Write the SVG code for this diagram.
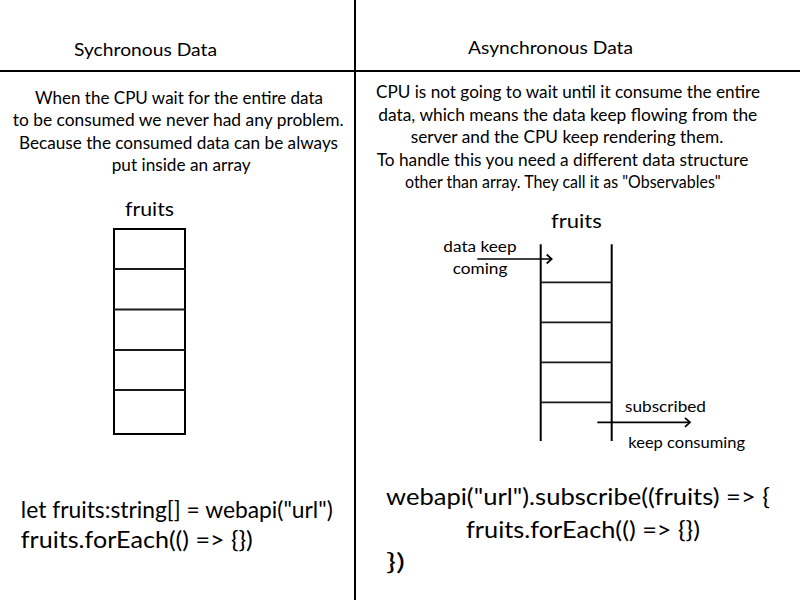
<svg xmlns="http://www.w3.org/2000/svg" width="800" height="600" viewBox="0 0 800 600">
  <style>
    text { font-family: Lato, "Open Sans", "Noto Sans", sans-serif; fill: #000; }
    .title { font-size: 18px; }
    .para { font-size: 16.3px; }
    .label { font-size: 18.5px; }
    .small { font-size: 15.5px; }
    .code { font-size: 24px; }
    .rule { stroke: #000; stroke-width: 2; fill: none; }
    .frame { stroke: #000; stroke-width: 2; fill: none; }
    .rung { stroke: #1a1a1a; stroke-width: 1.8; }
    .arrow { stroke: #000; stroke-width: 1.7; fill: none; marker-end: url(#chev); }
  </style>
  <defs>
    <marker id="chev" markerUnits="userSpaceOnUse" viewBox="0 0 8 12" refX="6.5" refY="6" markerWidth="8" markerHeight="12" orient="auto" overflow="visible">
      <path d="M1.5,1.5 L6.5,6 L1.5,10.5" fill="none" stroke="#000" stroke-width="1.7"/>
    </marker>
  </defs>
  <rect width="800" height="600" fill="#fff"/>

  <g id="layout">
    <line class="rule" x1="0" y1="71" x2="800" y2="71"/>
    <line class="rule" x1="355" y1="0" x2="355" y2="600"/>
  </g>

  <g id="sync-header">
    <text class="title" x="74" y="56" textLength="143" lengthAdjust="spacingAndGlyphs">Sychronous Data</text>
  </g>
  <g id="async-header">
    <text class="title" x="468" y="54" textLength="165" lengthAdjust="spacingAndGlyphs">Asynchronous Data</text>
  </g>

  <g id="sync-description">
    <text class="para" x="35" y="103.5" textLength="288" lengthAdjust="spacingAndGlyphs">When the CPU wait for the entire data</text>
    <text class="para" x="12.7" y="126" textLength="331" lengthAdjust="spacingAndGlyphs">to be consumed we never had any problem.</text>
    <text class="para" x="19" y="148.7" textLength="319" lengthAdjust="spacingAndGlyphs">Because the consumed data can be always</text>
    <text class="para" x="111.7" y="171.3" textLength="139" lengthAdjust="spacingAndGlyphs">put inside an array</text>
  </g>

  <g id="async-description">
    <text class="para" x="376" y="98.3" textLength="384" lengthAdjust="spacingAndGlyphs">CPU is not going to wait until it consume the entire</text>
    <text class="para" x="378.3" y="120.7" textLength="379" lengthAdjust="spacingAndGlyphs">data, which means the data keep flowing from the</text>
    <text class="para" x="410.7" y="143.3" textLength="312.6" lengthAdjust="spacingAndGlyphs">server and the CPU keep rendering them.</text>
    <text class="para" x="376.7" y="165.7" textLength="371.6" lengthAdjust="spacingAndGlyphs">To handle this you need a different data structure</text>
    <text class="para" x="405" y="188.3" textLength="315.7" lengthAdjust="spacingAndGlyphs">other than array. They call it as "Observables"</text>
  </g>

  <g id="sync-array">
    <text class="label" x="125" y="216" textLength="49" lengthAdjust="spacingAndGlyphs">fruits</text>
    <rect class="frame" x="114" y="229" width="71" height="205"/>
    <line class="rung" x1="114" y1="269" x2="185" y2="269"/>
    <line class="rung" x1="114" y1="309.5" x2="185" y2="309.5"/>
    <line class="rung" x1="114" y1="350" x2="185" y2="350"/>
    <line class="rung" x1="114" y1="390" x2="185" y2="390"/>
  </g>

  <g id="async-stream">
    <text class="label" x="551" y="228.3" textLength="50.7" lengthAdjust="spacingAndGlyphs">fruits</text>
    <line class="rule" x1="540.7" y1="244.3" x2="540.7" y2="441"/>
    <line class="rule" x1="611.7" y1="244.3" x2="611.7" y2="441"/>
    <line class="rung" x1="540.7" y1="282.3" x2="611.7" y2="282.3"/>
    <line class="rung" x1="540.7" y1="322.3" x2="611.7" y2="322.3"/>
    <line class="rung" x1="540.7" y1="362.3" x2="611.7" y2="362.3"/>
    <line class="rung" x1="540.7" y1="402.3" x2="611.7" y2="402.3"/>
  </g>

  <g id="connectors">
    <line class="arrow" x1="477.3" y1="259" x2="551.7" y2="259"/>
    <line class="arrow" x1="597.3" y1="422.3" x2="690" y2="422.3"/>
  </g>

  <g id="connector-labels">
    <text class="small" x="443.3" y="251.7" textLength="73.3" lengthAdjust="spacingAndGlyphs">data keep</text>
    <text class="small" x="452.7" y="274" textLength="54.7" lengthAdjust="spacingAndGlyphs">coming</text>
    <text class="small" x="625" y="411.7" textLength="81" lengthAdjust="spacingAndGlyphs">subscribed</text>
    <text class="small" x="628.3" y="448.3" textLength="116.7" lengthAdjust="spacingAndGlyphs">keep consuming</text>
  </g>

  <g id="sync-code">
    <text class="code" x="20.8" y="518" textLength="312" lengthAdjust="spacingAndGlyphs">let fruits:string[] = webapi("url")</text>
    <text class="code" x="20.8" y="548" textLength="232" lengthAdjust="spacingAndGlyphs">fruits.forEach(() =&gt; {})</text>
  </g>

  <g id="async-code">
    <text class="code" x="386" y="505" textLength="384" lengthAdjust="spacingAndGlyphs">webapi("url").subscribe((fruits) =&gt; {</text>
    <text class="code" x="466" y="538" textLength="234" lengthAdjust="spacingAndGlyphs">fruits.forEach(() =&gt; {})</text>
    <text class="code" x="386" y="570" textLength="19" lengthAdjust="spacingAndGlyphs">})</text>
  </g>
</svg>
